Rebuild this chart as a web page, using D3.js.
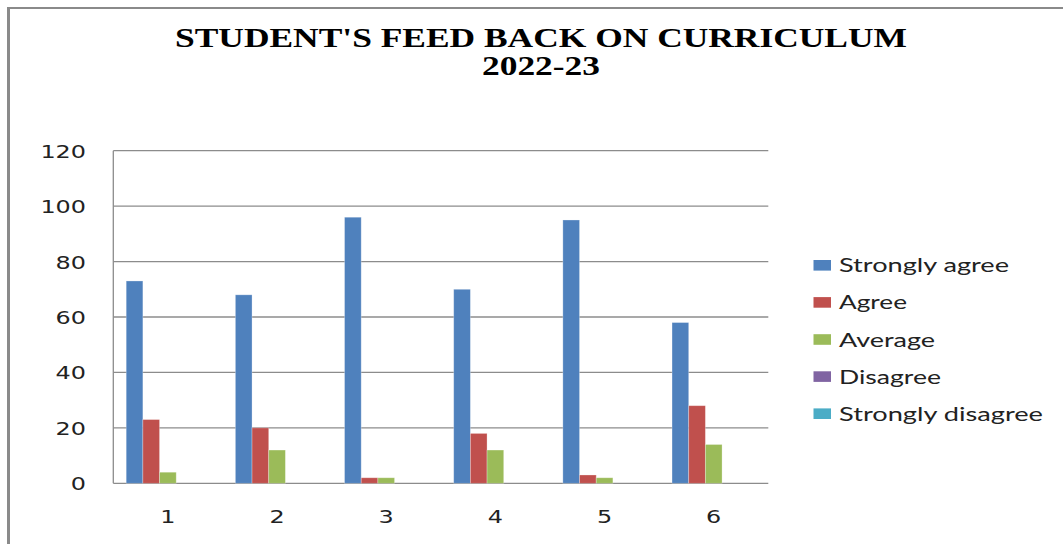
<!DOCTYPE html>
<html>
<head>
<meta charset="utf-8">
<script src="https://cdn.jsdelivr.net/npm/d3@7"></script>
<style>
  html, body { margin: 0; padding: 0; background: #fff; }
  svg { display: block; }
</style>
</head>
<body>
<svg id="chart" width="1063" height="544"></svg>
<script>
// Feedback responses per question
const categories = ["1", "2", "3", "4", "5", "6"];
const seriesNames = ["Strongly agree", "Agree", "Average", "Disagree", "Strongly disagree"];
const stronglyAgree = [73, 68, 96, 70, 95, 58];
const agree = [23, 20, 2, 18, 3, 28];
const average = [4, 12, 2, 12, 2, 14];
const disagree = [0, 0, 0, 0, 0, 0];
const stronglyDisagree = [0, 0, 0, 0, 0, 0];
const yTicks = [0, 20, 40, 60, 80, 100, 120];
const titleLines = ["STUDENT'S FEED BACK ON CURRICULUM", "2022-23"];

const seriesValues = [stronglyAgree, agree, average, disagree, stronglyDisagree];
const colors = ["#4F81BD", "#C0504D", "#9BBB59", "#8064A2", "#4BACC6"];

const svg = d3.select("#chart");

// outer frame (top and left edges)
svg.append("line").attr("x1", 8).attr("x2", 1063).attr("y1", 8).attr("y2", 8)
  .attr("stroke", "#8a8a8a").attr("stroke-width", 2);
svg.append("line").attr("x1", 8.5).attr("x2", 8.5).attr("y1", 7).attr("y2", 544)
  .attr("stroke", "#8a8a8a").attr("stroke-width", 3);

// title
const title = svg.append("g")
  .attr("font-family", "'Liberation Serif', 'Times New Roman', serif")
  .attr("font-weight", "bold")
  .attr("font-size", 27)
  .attr("fill", "#000")
  .attr("text-anchor", "middle");
title.append("text").attr("x", 541).attr("y", 47).text(titleLines[0])
  .attr("textLength", 732).attr("lengthAdjust", "spacingAndGlyphs");
title.append("text").attr("x", 541).attr("y", 75).text(titleLines[1])
  .attr("textLength", 118).attr("lengthAdjust", "spacingAndGlyphs");

// plot area bounds
const plotLeft = 113.3, plotRight = 768.3, plotTop = 150.7, plotBottom = 483.3;

const x0 = d3.scaleBand().domain(categories).range([plotLeft, plotRight]).padding(0);
const gap = 12.9;
const x1 = d3.scaleBand().domain(seriesNames).range([gap, x0.bandwidth() - gap]).padding(0);
const y = d3.scaleLinear().domain([0, 120]).range([plotBottom, plotTop]);

// gridlines
svg.append("g")
  .selectAll("line")
  .data(yTicks)
  .join("line")
  .attr("x1", plotLeft).attr("x2", plotRight)
  .attr("y1", d => y(d)).attr("y2", d => y(d))
  .attr("stroke", "#8c8c8c").attr("stroke-width", 1.3);

// value axis line
svg.append("line").attr("x1", plotLeft).attr("x2", plotLeft).attr("y1", plotTop).attr("y2", plotBottom)
  .attr("stroke", "#8c8c8c").attr("stroke-width", 1.3);

// y tick labels
const yAxis = d3.axisLeft(y).tickValues(yTicks).tickSize(0).tickPadding(0);
const yg = svg.append("g").attr("transform", "translate(86,0)").call(yAxis);
yg.select(".domain").remove();
yg.selectAll("text")
  .attr("font-family", "'DejaVu Sans', Verdana, sans-serif")
  .attr("font-size", 18)
  .attr("fill", "#222")
  .attr("dy", "0.36em")
  .each(function(d) {
    d3.select(this).attr("textLength", String(d).length * 15.2).attr("lengthAdjust", "spacingAndGlyphs");
  });

// x tick labels
const xAxis = d3.axisBottom(x0).tickSize(0).tickPadding(0);
const xg = svg.append("g").attr("transform", `translate(0,${plotBottom + 27})`).call(xAxis);
xg.select(".domain").remove();
xg.selectAll("text")
  .attr("font-family", "'DejaVu Sans', Verdana, sans-serif")
  .attr("font-size", 18)
  .attr("fill", "#222")
  .attr("dy", "0.71em")
  .attr("textLength", 15.2).attr("lengthAdjust", "spacingAndGlyphs");

// bars
const rows = categories.map((c, i) => ({
  cat: c,
  vals: seriesNames.map((s, j) => ({ series: s, idx: j, value: seriesValues[j][i] }))
}));

svg.append("g")
  .selectAll("g")
  .data(rows)
  .join("g")
  .attr("transform", d => `translate(${x0(d.cat)},0)`)
  .selectAll("rect")
  .data(d => d.vals.filter(v => v.value > 0))
  .join("rect")
  .attr("x", d => x1(d.series))
  .attr("width", x1.bandwidth())
  .attr("y", d => y(d.value))
  .attr("height", d => y(0) - y(d.value))
  .attr("fill", d => colors[d.idx])
  .attr("stroke", "rgba(255,255,255,0.35)")
  .attr("stroke-width", 0.8);

// legend
const legend = svg.append("g");
const legendTextLen = [170, 68, 96, 102, 204];
seriesNames.forEach((s, i) => {
  const cy = 265.3 + i * 37.1;
  legend.append("rect")
    .attr("x", 813.5).attr("y", cy - 5.3)
    .attr("width", 17.5).attr("height", 10.6)
    .attr("fill", colors[i]);
  legend.append("text")
    .attr("x", 839).attr("y", cy + 7)
    .attr("font-family", "Lato, 'Open Sans', sans-serif")
    .attr("font-size", 19.5)
    .attr("fill", "#222")
    .attr("textLength", legendTextLen[i]).attr("lengthAdjust", "spacingAndGlyphs")
    .text(s);
});
</script>
</body>
</html>
